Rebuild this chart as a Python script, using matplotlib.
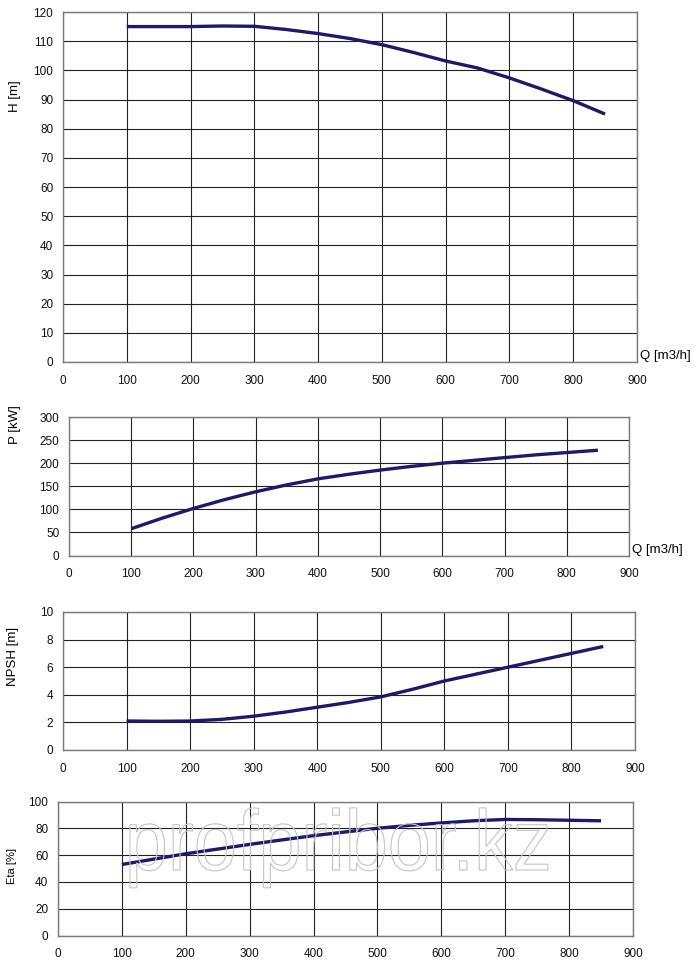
import matplotlib
matplotlib.use("Agg")
import matplotlib.pyplot as plt
from matplotlib.textpath import TextPath
from matplotlib.patches import PathPatch
from matplotlib.font_manager import FontProperties
from matplotlib.transforms import Affine2D

plt.rcParams['font.family'] = ['Liberation Sans', 'DejaVu Sans']

q = [100, 150, 200, 250, 300, 350, 400, 450, 500, 550, 600, 650, 700, 750, 800, 850]
head = [115, 115, 115, 115.2, 115.1, 114, 112.6, 110.9, 108.8, 106.1, 103.2, 100.8, 97.4, 93.6, 89.6, 85]
power = [58, 81, 102, 121, 138, 153, 166, 176, 185, 193, 200, 206, 212, 218, 223, 228]
npsh = [2.1, 2.08, 2.1, 2.22, 2.45, 2.75, 3.1, 3.45, 3.85, 4.4, 5.0, 5.5, 6.0, 6.5, 7.0, 7.5]
eta = [53, 57, 61, 64.5, 68, 71.3, 74.5, 77.3, 80, 82.2, 84, 85.6, 86.6, 86.4, 86, 85.6]

xticks = [0, 100, 200, 300, 400, 500, 600, 700, 800, 900]

W, H = 697, 974
fig = plt.figure(figsize=(W / 100, H / 100), dpi=100)

def box(l, t, r, b):
    return [l / W, 1 - b / H, (r - l) / W, (b - t) / H]

panels = [
    (box(63, 12, 637, 362), head, 120, 10, 'H [m]', True, (15, 96), 9.5),
    (box(69, 417, 629, 555.5), power, 300, 50, 'P [kW]', True, (15, 425), 9.5),
    (box(63, 612, 635, 750), npsh, 10, 2, 'NPSH [m]', False, (13, 656), 9.5),
    (box(58, 801.5, 633, 935.5), eta, 100, 20, 'Eta [%]', False, (12, 866), 8),
]

curve_color = '#1b1a6b'
for i, (rect, ys, ymax, ystep, ylabel, qlabel, lpos, lfs) in enumerate(panels):
    ax = fig.add_axes(rect)
    ax.plot(q, ys, color=curve_color, lw=2.4, solid_capstyle='butt', zorder=3)
    ax.set_xlim(0, 900)
    ax.set_ylim(0, ymax)
    ax.set_xticks(xticks)
    ax.set_yticks(list(range(0, ymax + 1, ystep)))
    ax.grid(True, color='#222222', lw=0.8)
    ax.set_axisbelow(True)
    for s in ax.spines.values():
        s.set_color('#7a7a7a')
        s.set_linewidth(1.0)
    ax.tick_params(axis='y', length=0, labelsize=8.5, colors='#111111', pad=7)
    ax.tick_params(axis='x', length=0, labelsize=8.5, colors='#111111', pad=9)
    fig.text(lpos[0] / W, 1 - lpos[1] / H, ylabel, rotation=90, fontsize=lfs,
             ha='center', va='center')
    if qlabel:
        ax.text(1.005, 0.0, 'Q [m3/h]', transform=ax.transAxes, fontsize=9.5,
                ha='left', va='bottom')

# watermark (outlined text)
fp = FontProperties(family='Liberation Sans')
tp = TextPath((0, 0), 'profpribor.kz', size=1, prop=fp)
ext = tp.get_extents()
target_w = 440.0
scale = target_w / ext.width
x0 = 130 - ext.x0 * scale
y0 = H - 870
tr = Affine2D().scale(scale * 0.95, scale * 1.05).translate(x0, y0)
wpath = tr.transform_path(tp)
patch = PathPatch(wpath, facecolor='none', edgecolor='#c4c4c4', lw=0.8,
                  transform=None, zorder=2.5)
fig.add_artist(patch)

fig.savefig('out.png', dpi=100, facecolor='white')
